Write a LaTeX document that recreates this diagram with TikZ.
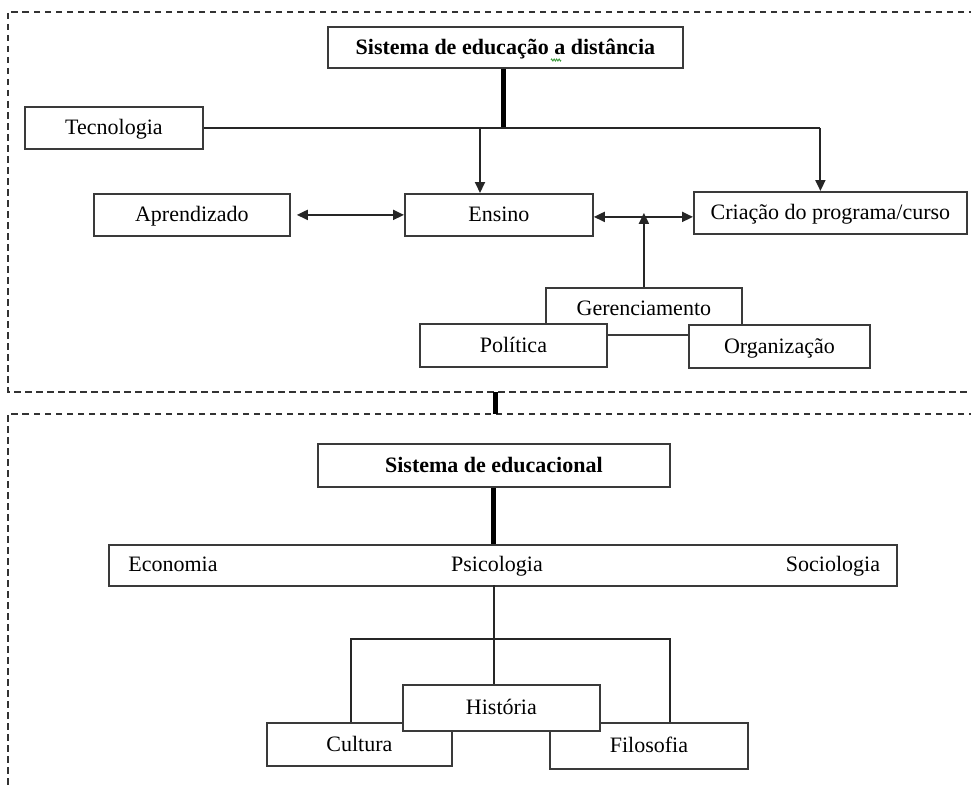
\documentclass[tikz,border=0pt]{standalone}
\usepackage{fontspec}
\setmainfont{Liberation Serif}
\usetikzlibrary{arrows.meta,decorations.pathmorphing}
\definecolor{edge}{HTML}{3A3A3A}
\definecolor{spell}{HTML}{3C9A3C}
\begin{document}
\begin{tikzpicture}[x=1pt,y=-1pt,
  every node/.style={font=\fontsize{22}{26}\selectfont, text height=17pt, text depth=3pt},
  box/.style={draw=edge, line width=1.8pt, fill=white, inner sep=0pt, anchor=north west},
  conn/.style={draw=black!85, line width=1.9pt},
  arr/.style={conn, -{Triangle[length=11pt,width=10pt]}},
  darr/.style={conn, {Triangle[length=11pt,width=10pt]}-{Triangle[length=11pt,width=10pt]}},
  heavy/.style={draw=black, line width=5pt},
  frame/.style={draw=black!80, line width=1.9pt, dash pattern=on 6.5pt off 4.5pt}]
\useasboundingbox (0,0) rectangle (971,789);

% dashed frames of the two subsystems
\coordinate (fa1) at (975,12);
\coordinate (fa2) at (8,12);
\coordinate (fa3) at (8,392);
\coordinate (fa4) at (975,392);
\coordinate (fb1) at (975,414);
\coordinate (fb2) at (8,414);
\coordinate (fb3) at (8,795);
\draw[frame] (fa1) -- (fa2) -- (fa3) -- (fa4);
\draw[frame] (fb1) -- (fb2) -- (fb3);
\coordinate (linkA) at (495,392);
\coordinate (linkB) at (495,414);
\draw[heavy] (linkA) -- (linkB);

% upper subsystem
\node[box, minimum width=355, minimum height=41] (sed) at (327,26) {\bfseries Sistema de educação a distância};
\node[box, minimum width=178, minimum height=42] (tec) at (24,106) {Tecnologia};
\node[box, minimum width=196, minimum height=42] (apr) at (93,193) {Aprendizado};
\node[box, minimum width=188, minimum height=42] (ens) at (404,193) {Ensino};
\node[box, minimum width=273, minimum height=42] (cri) at (693,191) {Criação do programa/curso};

% spelling mark under the lone "a"
\coordinate (spA) at (551,60);
\coordinate (spB) at (561,60);
\draw[spell, line width=0.9pt, decorate, decoration={zigzag, segment length=2.5pt, amplitude=1pt}] (spA) -- (spB);

\draw[heavy] ([xshift=-2pt]sed.south) -- ([xshift=-2pt]sed.south |- tec.east);
\coordinate (jE) at (480,127);
\draw[conn] (tec.east) -- ([xshift=-10pt]cri.north |- tec.east);
\draw[arr] ([xshift=-10pt]cri.north |- tec.east) -- ([xshift=-10pt]cri.north);
\draw[arr] (jE) -- (jE |- ens.north);
\draw[darr, shorten <=6pt] (apr.east) -- (apr.east -| ens.west);
\draw[darr] ([yshift=-2pt]ens.east) -- ([yshift=-2pt]ens.east -| cri.west);

\node[box, minimum width=196, minimum height=47] (ger) at (545,287) {\raisebox{3pt}{Gerenciamento}};
\draw[arr] (ger.north) -- (ger.north |- cri.west);
\node[box, minimum width=187, minimum height=43] (pol) at (419,323) {Política};
\node[box, minimum width=181, minimum height=43] (org) at (688,324) {Organização};

% lower subsystem
\node[box, minimum width=352, minimum height=43] (sed2) at (317,443) {\bfseries Sistema de educacional};
\node[box, minimum width=788, minimum height=41] (row) at (108,544) {};
\node (eco) at (173,564) {Economia};
\node (psi) at (497,564) {Psicologia};
\node (soc) at (833,564) {Sociologia};
\draw[heavy] (sed2.south) -- (sed2.south |- row.north);

\coordinate (jH) at (494,585);
\node[box, minimum width=185, minimum height=43] (cul) at (266,722) {Cultura};
\node[box, minimum width=198, minimum height=46] (fil) at (549,722) {Filosofia};
\draw[conn] ([xshift=-8.5pt]cul.north) -- ++(0,-83) -| ([xshift=21pt]fil.north);
\node[box, minimum width=197, minimum height=46] (his) at (402,684) {História};
\draw[conn] (jH) -- (jH |- his.north);
\end{tikzpicture}
\end{document}
